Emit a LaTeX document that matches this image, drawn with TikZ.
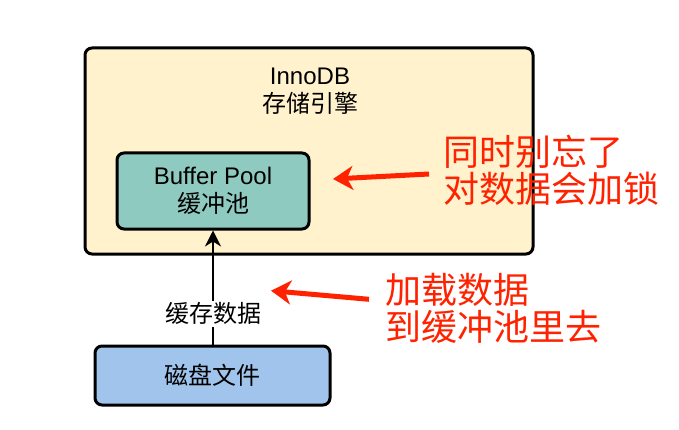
\documentclass[tikz,border=0pt]{standalone}
\usepackage{fontspec}
\setmainfont{Liberation Sans}
\newfontfamily\cjk{Noto Sans CJK SC}
\usetikzlibrary{arrows.meta,positioning}
\definecolor{dbcream}{HTML}{FFF2CD}
\definecolor{dbteal}{HTML}{8FCAC0}
\definecolor{dbblue}{HTML}{A0C4EB}
\definecolor{dbred}{HTML}{FF2200}
\tikzstyle{dbbox}=[draw=black,line width=3pt,rounded corners=7pt,inner sep=0pt]
\tikzstyle{dbtext}=[align=center,font=\fontsize{24}{28}\selectfont,inner sep=0pt]
\tikzstyle{notetext}=[text=dbred,align=left,anchor=west,inner sep=0pt,font=\cjk\fontsize{36}{37}\selectfont]
\tikzstyle{notearrow}=[draw=dbred,line width=5pt,-{Stealth[length=20pt,width=24pt,inset=6pt]}]

\begin{document}
\begin{tikzpicture}[x=1pt,y=-1pt]
  \useasboundingbox (0,0) rectangle (679,430);
  % storage engine and its pool
  \node[dbbox,fill=dbcream,minimum width=448pt,minimum height=206pt] (innodb) at (309,151) {};
  \node[dbtext] (engine) at (310,91) {InnoDB\\{\cjk 存储引擎}};
  \node[dbbox,fill=dbteal,minimum width=192pt,minimum height=76pt,dbtext] (pool) at (213,191) {Buffer Pool\\{\cjk 缓冲池}};
  \node[dbbox,fill=dbblue,minimum width=235pt,minimum height=59pt,dbtext] (disk) at (212.5,375.5) {\cjk 磁盘文件};
  \draw[line width=1.5pt,-{Stealth[length=16pt,width=16pt,inset=5pt]}] (pool.south |- disk.north)
    -- node[pos=0.27,fill=white,dbtext,inner sep=2pt] (cache) {\cjk 缓存数据} (pool.south);
  % red notes
  \node[notetext] (noteA) at (443,170) {同时别忘了\\对数据会加锁};
  \node[notetext] (noteB) at (385,308) {加载数据\\到缓冲池里去};
  \coordinate (tipA) at (333,179);
  \coordinate (tipB) at (271,290.7);
  \draw[notearrow] ([xshift=-14pt,yshift=-4pt]noteA.west) -- (tipA);
  \draw[notearrow] ([xshift=-16pt,yshift=8.7pt]noteB.west) -- (tipB);
\end{tikzpicture}
\end{document}
